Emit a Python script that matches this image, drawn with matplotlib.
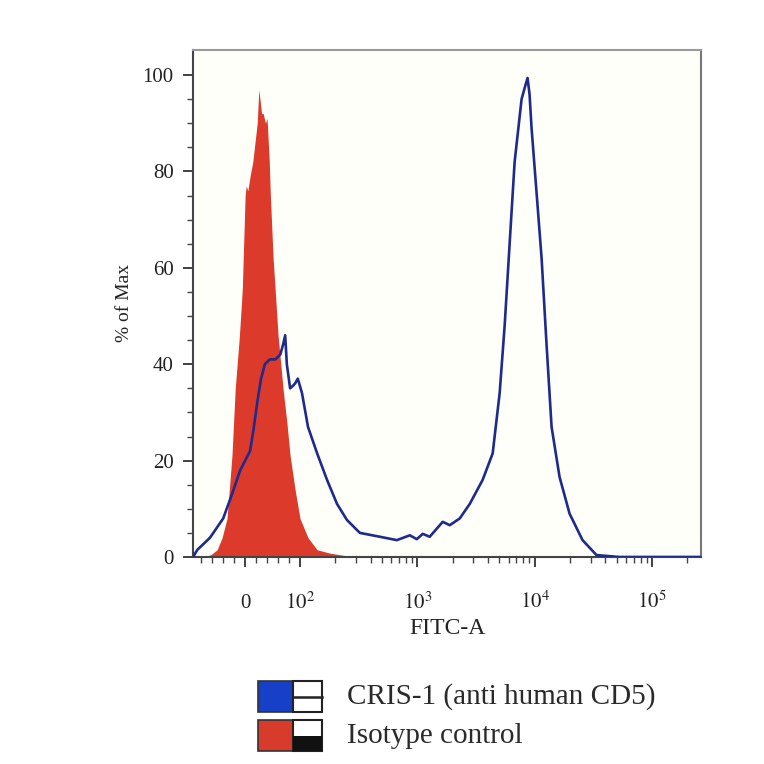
import matplotlib.pyplot as plt
from matplotlib.patches import Rectangle
from matplotlib.lines import Line2D
from matplotlib.ticker import FixedLocator, NullFormatter

# Isotype control histogram (filled red), FITC-A vs % of Max
isotype_x = [-75, -62, -51, -42, -33, -24, -18, -11, -7, -5, 0, 2, 5, 9, 14, 18, 22, 25, 28,
             30, 33, 37, 40, 44, 46, 51, 55, 60, 65, 69, 76, 82, 91, 100, 117, 140, 180, 242, 300]
isotype_y = [0, 0.5, 1.5, 4, 8, 21, 35, 45, 52, 56, 75, 77, 76, 79, 82, 86, 90, 97, 94,
             92, 92, 90, 91, 82, 75, 62, 55, 46, 40, 35, 28, 21, 14, 8, 4, 1.5, 0.8, 0.3, 0]

# CRIS-1 (anti human CD5) histogram (blue line)
cris_x = [-95, -87, -64, -40, -24, -9, 9, 16, 22, 29, 36, 45, 55, 64, 69, 73, 76, 82, 87, 91, 96,
          104, 117, 140, 170, 207, 251, 324, 480, 669, 863, 990, 1113, 1276, 1648, 1891, 2300,
          2798, 3606, 4391, 5036, 5555, 6125, 6757, 7745, 8375, 8710, 9057, 9419, 10399, 11470,
          12650, 13953, 16322, 19862, 25620, 33700, 52840, 262144]
cris_y = [0, 1.5, 4, 8, 13, 18, 22, 27, 32, 37, 40, 41, 41, 42, 44, 46, 40, 35, 35.5, 36, 37,
          34, 27, 21.5, 16, 11, 7.7, 5, 4.2, 3.5, 4.5, 3.7, 4.8, 4.2, 7.3, 6.6, 8,
          11, 16, 21.5, 34, 48, 65, 82, 95, 98, 99.4, 96, 89, 75.5, 62,
          44, 27, 16.6, 9, 3.5, 0.4, 0, 0]

x_major = [0, 100, 1000, 10000, 100000]
x_major_labels = ['0', '$10^2$', '$10^3$', '$10^4$', '$10^5$']
y_major = [0, 20, 40, 60, 80, 100]
legend_labels = ['CRIS-1 (anti human CD5)', 'Isotype control']

plt.rcParams['font.family'] = ['Liberation Serif', 'DejaVu Serif']
plt.rcParams['mathtext.fontset'] = 'stix'

fig = plt.figure(figsize=(7.64, 7.64), dpi=100)
ax = fig.add_axes([193 / 764, 207 / 764, 508 / 764, 507 / 764])
ax.set_facecolor('#fffffa')

# biexponential-like axis: linear around 0, log above 10^2
ax.set_xscale('symlog', linthresh=100, linscale=0.421)

ax.fill_between(isotype_x, isotype_y, 0, color='#dc3a2a', lw=0, zorder=2)
ax.plot(cris_x, cris_y, color='#1e2a8c', lw=1.9, zorder=3)

ax.set_xlim(-95, 262144)
ax.set_ylim(0, 105.2)

# ticks
x_minor = [-80, -60, -40, -20, 20, 40, 60, 80]
for e in [2, 3, 4]:
    x_minor += [k * 10 ** e for k in range(2, 10)]
x_minor += [200000]
ax.xaxis.set_major_locator(FixedLocator(x_major))
ax.xaxis.set_minor_locator(FixedLocator(x_minor))
ax.xaxis.set_minor_formatter(NullFormatter())
ax.set_xticks(x_major)
ax.set_xticklabels(x_major_labels)
ax.set_yticks(y_major)
ax.yaxis.set_minor_locator(FixedLocator(list(range(5, 105, 5))))

ax.tick_params(axis='both', which='major', direction='out', colors='#333333',
               labelcolor='#222222', width=1.3, labelsize=15)
ax.tick_params(axis='y', which='major', length=7, pad=7)
ax.tick_params(axis='y', which='minor', length=4, width=1.0, color='#444444')
ax.tick_params(axis='x', which='major', length=7, pad=30)
ax.tick_params(axis='x', which='minor', length=4, width=1.0, color='#444444')
for lab in ax.get_xticklabels():
    lab.set_va('baseline')

for side in ['left', 'bottom']:
    ax.spines[side].set_color('#444444')
    ax.spines[side].set_linewidth(1.5)
ax.spines['top'].set_color('#9a9a9a')
ax.spines['right'].set_color('#777777')
ax.spines['top'].set_linewidth(1.5)
ax.spines['right'].set_linewidth(1.5)

ax.set_xlabel('FITC-A', fontsize=17, color='#222222')
ax.xaxis.set_label_coords(0.5, -0.12)
ax.set_ylabel('% of Max', fontsize=14, color='#222222')
ax.yaxis.set_label_coords(-0.118, 0.5)

# legend drawn by hand: colour swatch + line-style box
def px(x, y):
    return x / 764, 1 - y / 764

sw_w, sw_h, box_w = 35 / 764, 31 / 764, 29 / 764
x0, y0 = px(258, 712)
fig.add_artist(Rectangle((x0, y0), sw_w, sw_h, transform=fig.transFigure,
                         facecolor='#1640c8', edgecolor='#333333', lw=1.2))
fig.add_artist(Rectangle((x0 + sw_w, y0), box_w, sw_h, transform=fig.transFigure,
                         facecolor='white', edgecolor='#222222', lw=1.5))
fig.add_artist(Line2D([x0 + sw_w, x0 + sw_w + box_w], [y0 + sw_h / 2] * 2,
                      transform=fig.transFigure, color='#222222', lw=1.8))
x1, y1 = px(258, 751)
fig.add_artist(Rectangle((x1, y1), sw_w, sw_h, transform=fig.transFigure,
                         facecolor='#d83a2c', edgecolor='#333333', lw=1.2))
fig.add_artist(Rectangle((x1 + sw_w, y1), box_w, sw_h, transform=fig.transFigure,
                         facecolor='white', edgecolor='#222222', lw=1.5))
fig.add_artist(Rectangle((x1 + sw_w, y1), box_w, sw_h / 2, transform=fig.transFigure,
                         facecolor='#111111', edgecolor='none'))

tx, ty = px(347, 697)
fig.text(tx, ty, legend_labels[0], fontsize=21, color='#2a2a2a', va='center')
tx, ty = px(347, 736)
fig.text(tx, ty, legend_labels[1], fontsize=21, color='#2a2a2a', va='center')

fig.savefig('out.png', dpi=100, facecolor='white')
